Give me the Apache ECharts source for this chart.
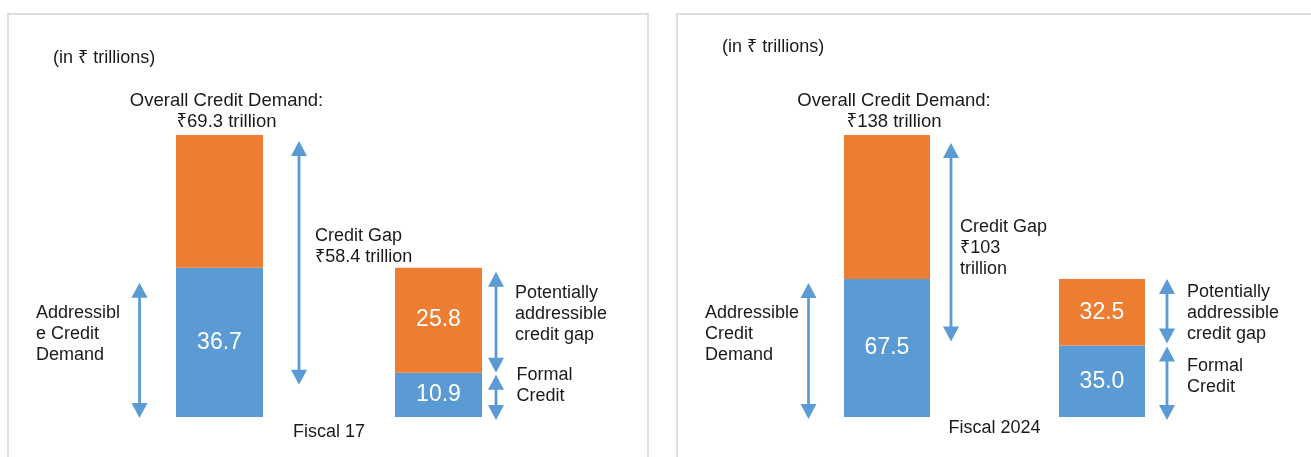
<!DOCTYPE html>
<html>
<head>
<meta charset="utf-8">
<script src="https://cdn.jsdelivr.net/npm/echarts@6/dist/echarts.min.js"></script>
<style>
  html, body { margin: 0; padding: 0; background: #fff; }
  #chart { width: 1311px; height: 457px; }
</style>
</head>
<body>
<div id="chart"></div>
<script>
// values in ₹ trillions
const categories = ['Overall credit demand', 'Addressable credit demand'];

// Fiscal 17
const fy17Total = 69.3;
const fy17Blue = [36.7, 10.9];    // addressable demand, formal credit
const fy17Orange = [32.6, 25.8];  // non-addressable part, potentially addressable gap
const fy17Gap = 58.4;
const fy17Arrows = [[0, 36.7], [10.9, 69.3], [10.9, 36.7], [0, 10.9]];

// Fiscal 2024
const fy24Total = 138;
const fy24Blue = [67.5, 35.0];
const fy24Orange = [70.5, 32.5];
const fy24Gap = 103;
const fy24Arrows = [[0, 67.5], [35.0, 138], [35.0, 67.5], [0, 35.0]];

const BLUE = '#5b9bd5';
const ORANGE = '#ed7d31';
const TEXT = '#1a1a1a';
const FONT = "'Liberation Sans', Arial, 'Noto Sans', sans-serif";

// where each arrow sits next to its bar (category, pixel offset, head insets)
const fy17ArrowLayout = [
  { cat: 0, dx: -80, top: 15, bottom: -1 },
  { cat: 0, dx: 79.5, top: 6, bottom: -12 },
  { cat: 1, dx: 57.5, top: 4, bottom: 0 },
  { cat: 1, dx: 57.5, top: 2, bottom: -3 }
];
const fy24ArrowLayout = [
  { cat: 0, dx: -78.5, top: 4, bottom: -2 },
  { cat: 0, dx: 64, top: 8, bottom: 4 },
  { cat: 1, dx: 65, top: 0, bottom: 2 },
  { cat: 1, dx: 65, top: 1, bottom: -3 }
];

function arrowSeries(ranges, layout, axisIndex) {
  return {
    type: 'custom',
    xAxisIndex: axisIndex,
    yAxisIndex: axisIndex,
    silent: true,
    z: 5,
    data: ranges.map((r, i) => [layout[i].cat, r[0], r[1], i]),
    renderItem(params, api) {
      const l = layout[api.value(3)];
      const lo = api.coord([api.value(0), api.value(1)]);
      const hi = api.coord([api.value(0), api.value(2)]);
      const x = lo[0] + l.dx;
      const yTop = hi[1] + l.top;
      const yBot = lo[1] - l.bottom;
      const head = 15, half = 8;
      return {
        type: 'group',
        children: [
          { type: 'line', shape: { x1: x, y1: yTop + head - 1, x2: x, y2: yBot - head + 1 },
            style: { stroke: BLUE, lineWidth: 2.8 } },
          { type: 'polygon', shape: { points: [[x, yTop], [x - half, yTop + head], [x + half, yTop + head]] },
            style: { fill: BLUE } },
          { type: 'polygon', shape: { points: [[x, yBot], [x - half, yBot - head], [x + half, yBot - head]] },
            style: { fill: BLUE } }
        ]
      };
    }
  };
}

function barSeries(blue, orange, total, axisIndex, width) {
  const inside = { show: true, position: 'inside', color: '#fff', fontSize: 23, fontFamily: FONT,
    formatter: p => p.value.toFixed(1) };
  return [
    {
      type: 'bar', stack: 's' + axisIndex, xAxisIndex: axisIndex, yAxisIndex: axisIndex,
      barWidth: width, itemStyle: { color: BLUE }, label: inside,
      data: blue
    },
    {
      type: 'bar', stack: 's' + axisIndex, xAxisIndex: axisIndex, yAxisIndex: axisIndex,
      barWidth: width, itemStyle: { color: ORANGE },
      data: [
        { value: orange[0], label: { show: true, position: 'top', distance: 3, offset: [7, 0],
          color: TEXT, fontSize: 18.5, lineHeight: 21, fontFamily: FONT, align: 'center',
          formatter: 'Overall Credit Demand:\n₹' + total + ' trillion' } },
        { value: orange[1], label: inside }
      ]
    }
  ];
}

function hiddenX(gridIndex, name, gap) {
  return {
    type: 'category', gridIndex, data: categories,
    axisLine: { show: false }, axisTick: { show: false }, axisLabel: { show: false },
    name, nameLocation: 'middle', nameGap: gap,
    nameTextStyle: { color: TEXT, fontSize: 18, fontFamily: FONT }
  };
}

function hiddenY(gridIndex, max) {
  return {
    type: 'value', gridIndex, min: 0, max,
    axisLine: { show: false }, axisTick: { show: false }, axisLabel: { show: false },
    splitLine: { show: false }
  };
}

function note(x, y, text) {
  return {
    type: 'text', x, y, silent: true,
    style: { text, fill: TEXT, font: '18px ' + FONT, lineHeight: 21, verticalAlign: 'middle' }
  };
}

const chart = echarts.init(document.getElementById('chart'));

chart.setOption({
  animation: false,
  backgroundColor: '#fff',
  grid: [
    { left: 110, top: 135, width: 438, height: 282 },
    { left: 779.5, top: 135, width: 430, height: 282 }
  ],
  xAxis: [hiddenX(0, 'Fiscal 17', 6), hiddenX(1, 'Fiscal 2024', 2)],
  yAxis: [hiddenY(0, fy17Total), hiddenY(1, fy24Total)],
  graphic: [
    // panel frames
    { type: 'rect', shape: { x: 8, y: 14, width: 640, height: 470 }, silent: true,
      style: { fill: 'none', stroke: '#dedede', lineWidth: 2 } },
    { type: 'rect', shape: { x: 677, y: 14, width: 700, height: 470 }, silent: true,
      style: { fill: 'none', stroke: '#dedede', lineWidth: 2 } },

    note(53, 58, '(in ₹ trillions)'),
    note(36, 334.5, 'Addressibl\ne Credit\nDemand'),
    note(315, 247, 'Credit Gap\n₹' + fy17Gap + ' trillion'),
    note(515, 314, 'Potentially\naddressible\ncredit gap'),
    note(516.5, 385.5, 'Formal\nCredit'),

    note(722, 47.5, '(in ₹ trillions)'),
    note(705, 334.5, 'Addressible\nCredit\nDemand'),
    note(960, 248.5, 'Credit Gap\n₹' + fy24Gap + '\ntrillion'),
    note(1187, 313, 'Potentially\naddressible\ncredit gap'),
    note(1187, 376.5, 'Formal\nCredit')
  ],
  series: [
    ...barSeries(fy17Blue, fy17Orange, fy17Total, 0, 87),
    ...barSeries(fy24Blue, fy24Orange, fy24Total, 1, 86),
    arrowSeries(fy17Arrows, fy17ArrowLayout, 0),
    arrowSeries(fy24Arrows, fy24ArrowLayout, 1)
  ]
});
</script>
</body>
</html>
